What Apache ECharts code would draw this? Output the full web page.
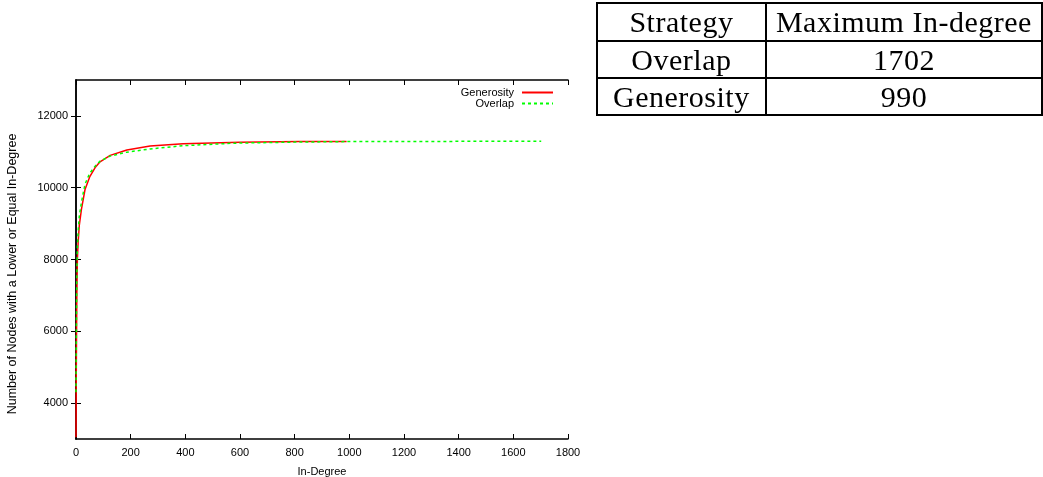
<!DOCTYPE html>
<html>
<head>
<meta charset="utf-8">
<script src="https://cdn.jsdelivr.net/npm/echarts@6/dist/echarts.min.js"></script>
<style>
  html, body { margin: 0; padding: 0; background: #fff; }
  #chart { position: absolute; left: 0; top: 0; width: 1043px; height: 477px; }
  #tbl { position: absolute; left: 596px; top: 2px; border-collapse: collapse;
         font-family: "Liberation Serif", "DejaVu Serif", serif; font-size: 30px; color: #000;
         letter-spacing: 0.5px; }
  #tbl td { border: 2px solid #000; text-align: center; padding: 0; height: 35px; line-height: 35px; }
  #tbl tr:first-child td { height: 36px; line-height: 36px; }
  #tbl td.c1 { width: 168px; }
  #tbl td.c2 { width: 280px; }
</style>
</head>
<body>
<div id="chart"></div>
<table id="tbl"></table>
<script>
// ---- data ----
const generosityDeg = [0, 1, 2, 3, 5, 8, 12, 20, 33, 50, 70, 88, 125, 186, 271, 392, 600, 820, 990];
const generosityVal = [3050, 4800, 6000, 7000, 8000, 8500, 8950, 9400, 9950, 10300, 10560, 10720, 10900, 11050, 11160, 11225, 11265, 11285, 11290];
const overlapDeg = [0, 1, 2, 3, 5, 8, 12, 20, 33, 50, 70, 88, 125, 186, 271, 392, 576, 800, 1000, 1300, 1702];
const overlapVal = [4300, 5600, 6600, 7400, 8300, 8800, 9200, 9600, 10100, 10400, 10600, 10740, 10880, 10990, 11080, 11170, 11240, 11270, 11285, 11290, 11292];
const xTicks = [0, 200, 400, 600, 800, 1000, 1200, 1400, 1600, 1800];
const yTicks = [4000, 6000, 8000, 10000, 12000];
const tableHeader = ["Strategy", "Maximum In-degree"];
const tableRows = [["Overlap", "1702"], ["Generosity", "990"]];
const xTitle = "In-Degree";
const yTitle = "Number of Nodes with a Lower or Equal In-Degree";

// ---- table ----
const tbl = document.getElementById('tbl');
[tableHeader].concat(tableRows).forEach(r => {
  const tr = document.createElement('tr');
  r.forEach((c, i) => {
    const td = document.createElement('td');
    td.className = i === 0 ? 'c1' : 'c2';
    td.textContent = c;
    tr.appendChild(td);
  });
  tbl.appendChild(tr);
});

// ---- chart ----
const pairs = (xs, ys) => xs.map((x, i) => [x, ys[i]]);
const font = '"Liberation Sans", Arial, sans-serif';
const chart = echarts.init(document.getElementById('chart'));
const axisLine = { show: true, lineStyle: { color: '#000', width: 1.5 } };
const tick = { show: true, inside: true, length: 5, lineStyle: { color: '#000', width: 1 } };
const plain = v => String(v);
chart.setOption({
  animation: false,
  backgroundColor: '#fff',
  grid: { left: 76, right: 475, top: 80, bottom: 38, outerBoundsMode: 'none', containLabel: false },
  legend: {
    orient: 'vertical', right: 484, top: 82, align: 'right',
    itemWidth: 31, itemHeight: 10, itemGap: 0,
    itemStyle: { opacity: 0 },
    textStyle: { fontFamily: font, fontSize: 11, color: '#000', padding: [0, 3, 0, 0] },
    data: ['Generosity', 'Overlap']
  },
  graphic: [{
    type: 'text', rotation: Math.PI / 2,
    x: 13, y: 274,
    style: { text: yTitle, fontFamily: font, fontSize: 12.5, fill: '#000', align: 'center', verticalAlign: 'middle' }
  }],
  xAxis: [{
    type: 'value', min: 0, max: 1800, interval: 200,
    name: xTitle, nameLocation: 'middle', nameGap: 27,
    nameTextStyle: { fontFamily: font, fontSize: 11, color: '#000' },
    axisLine: axisLine, axisTick: tick, splitLine: { show: false },
    axisLabel: { fontFamily: font, fontSize: 11, color: '#000', margin: 8,
      customValues: xTicks, formatter: plain },
  }, {
    type: 'value', min: 0, max: 1800, interval: 200, position: 'top',
    axisLine: axisLine, axisTick: tick, splitLine: { show: false },
    axisLabel: { show: false }
  }],
  yAxis: [{
    type: 'value', min: 3000, max: 13000,
    axisLine: axisLine, splitLine: { show: false },
    axisTick: Object.assign({ customValues: yTicks }, tick),
    axisLabel: { fontFamily: font, fontSize: 11, color: '#000', margin: 8, customValues: yTicks, formatter: plain }
  }, {
    type: 'value', min: 3000, max: 13000, position: 'right',
    axisLine: axisLine, splitLine: { show: false },
    axisTick: Object.assign({ customValues: yTicks }, tick),
    axisLabel: { show: false }
  }],
  series: [{
    name: 'Generosity', type: 'line', symbol: 'none', smooth: false,
    data: pairs(generosityDeg, generosityVal),
    lineStyle: { color: '#ff0000', width: 1.5 }, itemStyle: { color: '#ff0000' }
  }, {
    name: 'Overlap', type: 'line', symbol: 'none', smooth: false,
    data: pairs(overlapDeg, overlapVal),
    lineStyle: { color: '#00ff00', width: 1.5, type: [3, 3] }, itemStyle: { color: '#00ff00' }
  }]
});
</script>
</body>
</html>
